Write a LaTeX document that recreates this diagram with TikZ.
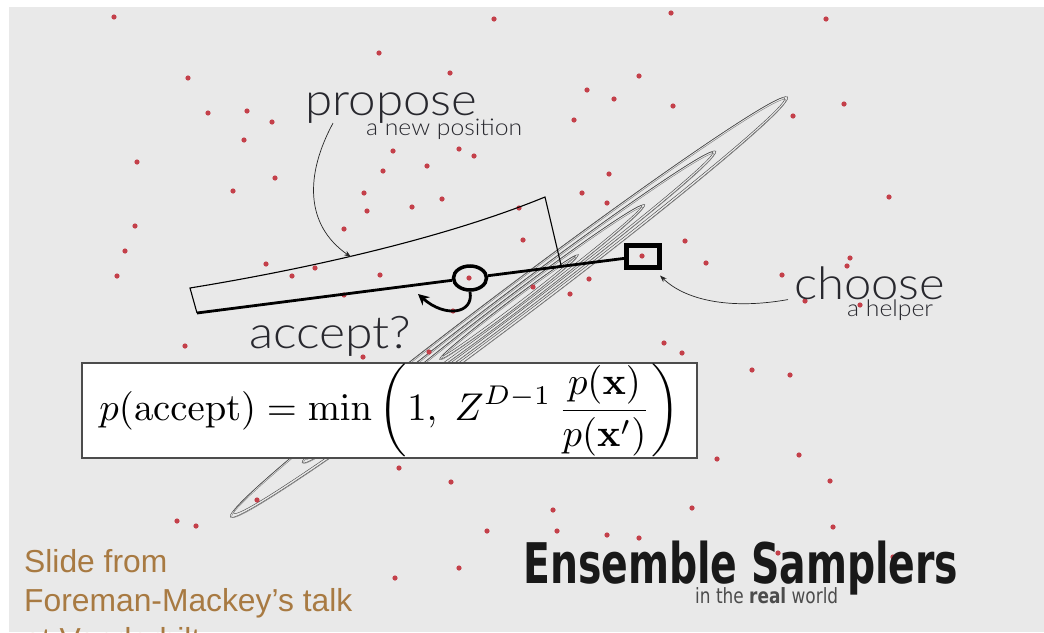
\documentclass[tikz,border=0pt]{standalone}
\usepackage[no-math]{fontspec}
\usepackage{amsmath}
\usepackage{graphicx}
\usetikzlibrary{arrows.meta,shapes.geometric}
\newfontfamily\thinfont{Lato Light}
\newfontfamily\titlefont{DejaVu Sans Condensed}
\newfontfamily\creditfont{Liberation Sans}
\definecolor{slidegray}{RGB}{233,233,233}
\definecolor{dotred}{RGB}{196,64,74}
\definecolor{inkgray}{RGB}{40,40,46}
\definecolor{creditbrown}{RGB}{168,122,66}
\newcommand{\wideto}[2]{\resizebox{#1}{\height}{#2}}

\begin{document}
\begin{tikzpicture}[x=1pt,y=-1pt,
  slidetext/.style={inner sep=0pt,anchor=base west,text=inkgray},
  contour/.style={draw=black!70,line width=0.45pt},
  thin arrow/.style={draw=black!85,line width=0.7pt,-{Stealth[length=7pt,width=5pt]}},
  thick line/.style={line width=2.8pt}]
  \useasboundingbox (0,0) rectangle (1044,632);
  \clip (0,0) rectangle (1044,632);
  \fill[white] (0,0) rectangle (1044,632);
  \fill[slidegray] (9,7) rectangle (1044,632);

  \begin{scope}[rotate around={37:(509,307)}]
    \foreach \a/\b in {349/17,259/12.5,170/8.5,87/4.5}{
      \draw[contour] (509,307) ellipse [x radius={\a pt}, y radius={\b pt}];
      \draw[contour] (510,306) ellipse [x radius={(\a-4)*1pt}, y radius={(\b-1.4)*1pt}];
      \draw[contour,draw=black!50] (508,308) ellipse [x radius={(\a-2)*1pt}, y radius={(\b-0.7)*1pt}];
    }
  \end{scope}

  \foreach \x/\y in {114/17,494/19,671/13,826/19,379/53,450/73,639/76,188/78,587/90,614/99,
    673/106,844/104,793/116,208/113,247/111,272/122,244/140,574/120,393/151,459/149,474/156,
    383/171,427/166,609/174,137/162,275/178,233/191,364/193,412/207,442/199,582/193,607/203,
    519/208,367/211,344/229,135/226,523/240,685/241,125/251,117/276,266/264,292/276,315/268,
    380/275,469/278,642/256,533/287,589/279,570/294,344/295,453/311,889/197,706/263,850/258,
    847/266,782/275,805/301,860/305,185/346,363/357,429/352,664/343,682/353,752/370,790/375,
    717/459,799/455,399/468,451/482,830/481,257/500,553/510,692/508,177/521,196/526,487/531,
    557/531,607/535,639/538,833/527,778/553,459/568,395/578,893/557}
    \fill[dotred] (\x,\y) circle (2.6pt);

  \coordinate (wtl) at (190,288);
  \coordinate (wbl) at (197,313);
  \coordinate (wtr) at (545,197);
  \coordinate (wbr) at (561,265);
  \draw[line width=1.1pt] (wbl) -- (wtl) .. controls (300,270) and (440,240) .. (wtr) -- (wbr);

  \node[ellipse,draw,line width=3.5pt,minimum width=33pt,minimum height=24pt,inner sep=0] (circ) at (470,278) {};
  \node[rectangle,draw,line width=5pt,minimum width=33pt,minimum height=22pt,inner sep=0] (helpsq) at (643,256) {};
  \draw[thick line] (wbl) -- (circ);
  \draw[thick line] (circ) -- (helpsq);

  \coordinate (accepttip) at (418,294);
  \draw[thick line,-{Stealth[length=11pt,width=11pt]}] (circ.south) .. controls (474,314) and (445,318) .. (accepttip);

  \node[slidetext,font=\thinfont\fontsize{45}{50}\selectfont] (propose) at (305,115) {\wideto{172pt}{propose}};
  \node[slidetext,font=\thinfont\fontsize{23}{26}\selectfont] (newpos) at (366,135) {\wideto{156pt}{a new position}};
  \node[slidetext,font=\thinfont\fontsize{45}{50}\selectfont] (accept) at (249,348) {\wideto{162pt}{accept?}};
  \node[slidetext,font=\thinfont\fontsize{45}{50}\selectfont] (choose) at (794,299) {\wideto{151pt}{choose}};
  \node[slidetext,font=\thinfont\fontsize{23}{26}\selectfont] (helper) at (847,316) {\wideto{86pt}{a helper}};

  \coordinate (proptip) at (351,257);
  \draw[thin arrow] ([xshift=28pt]propose.south west) .. controls (305,175) and (305,225) .. (proptip);
  \draw[thin arrow] ([xshift=-6pt]choose.south west) .. controls (730,310) and (685,300) .. ([shift={(-2,6)}]helpsq.south east);

  \node[draw=black!70,line width=1.3pt,fill=white,minimum width=615pt,minimum height=95pt,inner sep=0] (formula) at (389.5,410.5)
    {\resizebox{580pt}{!}{$\displaystyle p(\mathrm{accept}) = \min\left(1,\; Z^{D-1}\,\frac{p(\mathbf{x})}{p(\mathbf{x}')}\right)$}};

  \node[slidetext,text=black!90,font=\titlefont\bfseries\fontsize{56}{60}\selectfont] (title) at (523,583) {\wideto{435pt}{Ensemble Samplers}};
  \node[slidetext,text=black!70,font=\titlefont\fontsize{21}{24}\selectfont] (subtitle) at (695,603) {\wideto{143pt}{in the \textbf{real} world}};

  \node[inner sep=0pt,anchor=north west,align=left,text=creditbrown,font=\creditfont\fontsize{31.8}{39}\selectfont] (credit) at (24,549)
    {Slide from\\Foreman-Mackey’s talk\\at Vanderbilt};
\end{tikzpicture}
\end{document}
